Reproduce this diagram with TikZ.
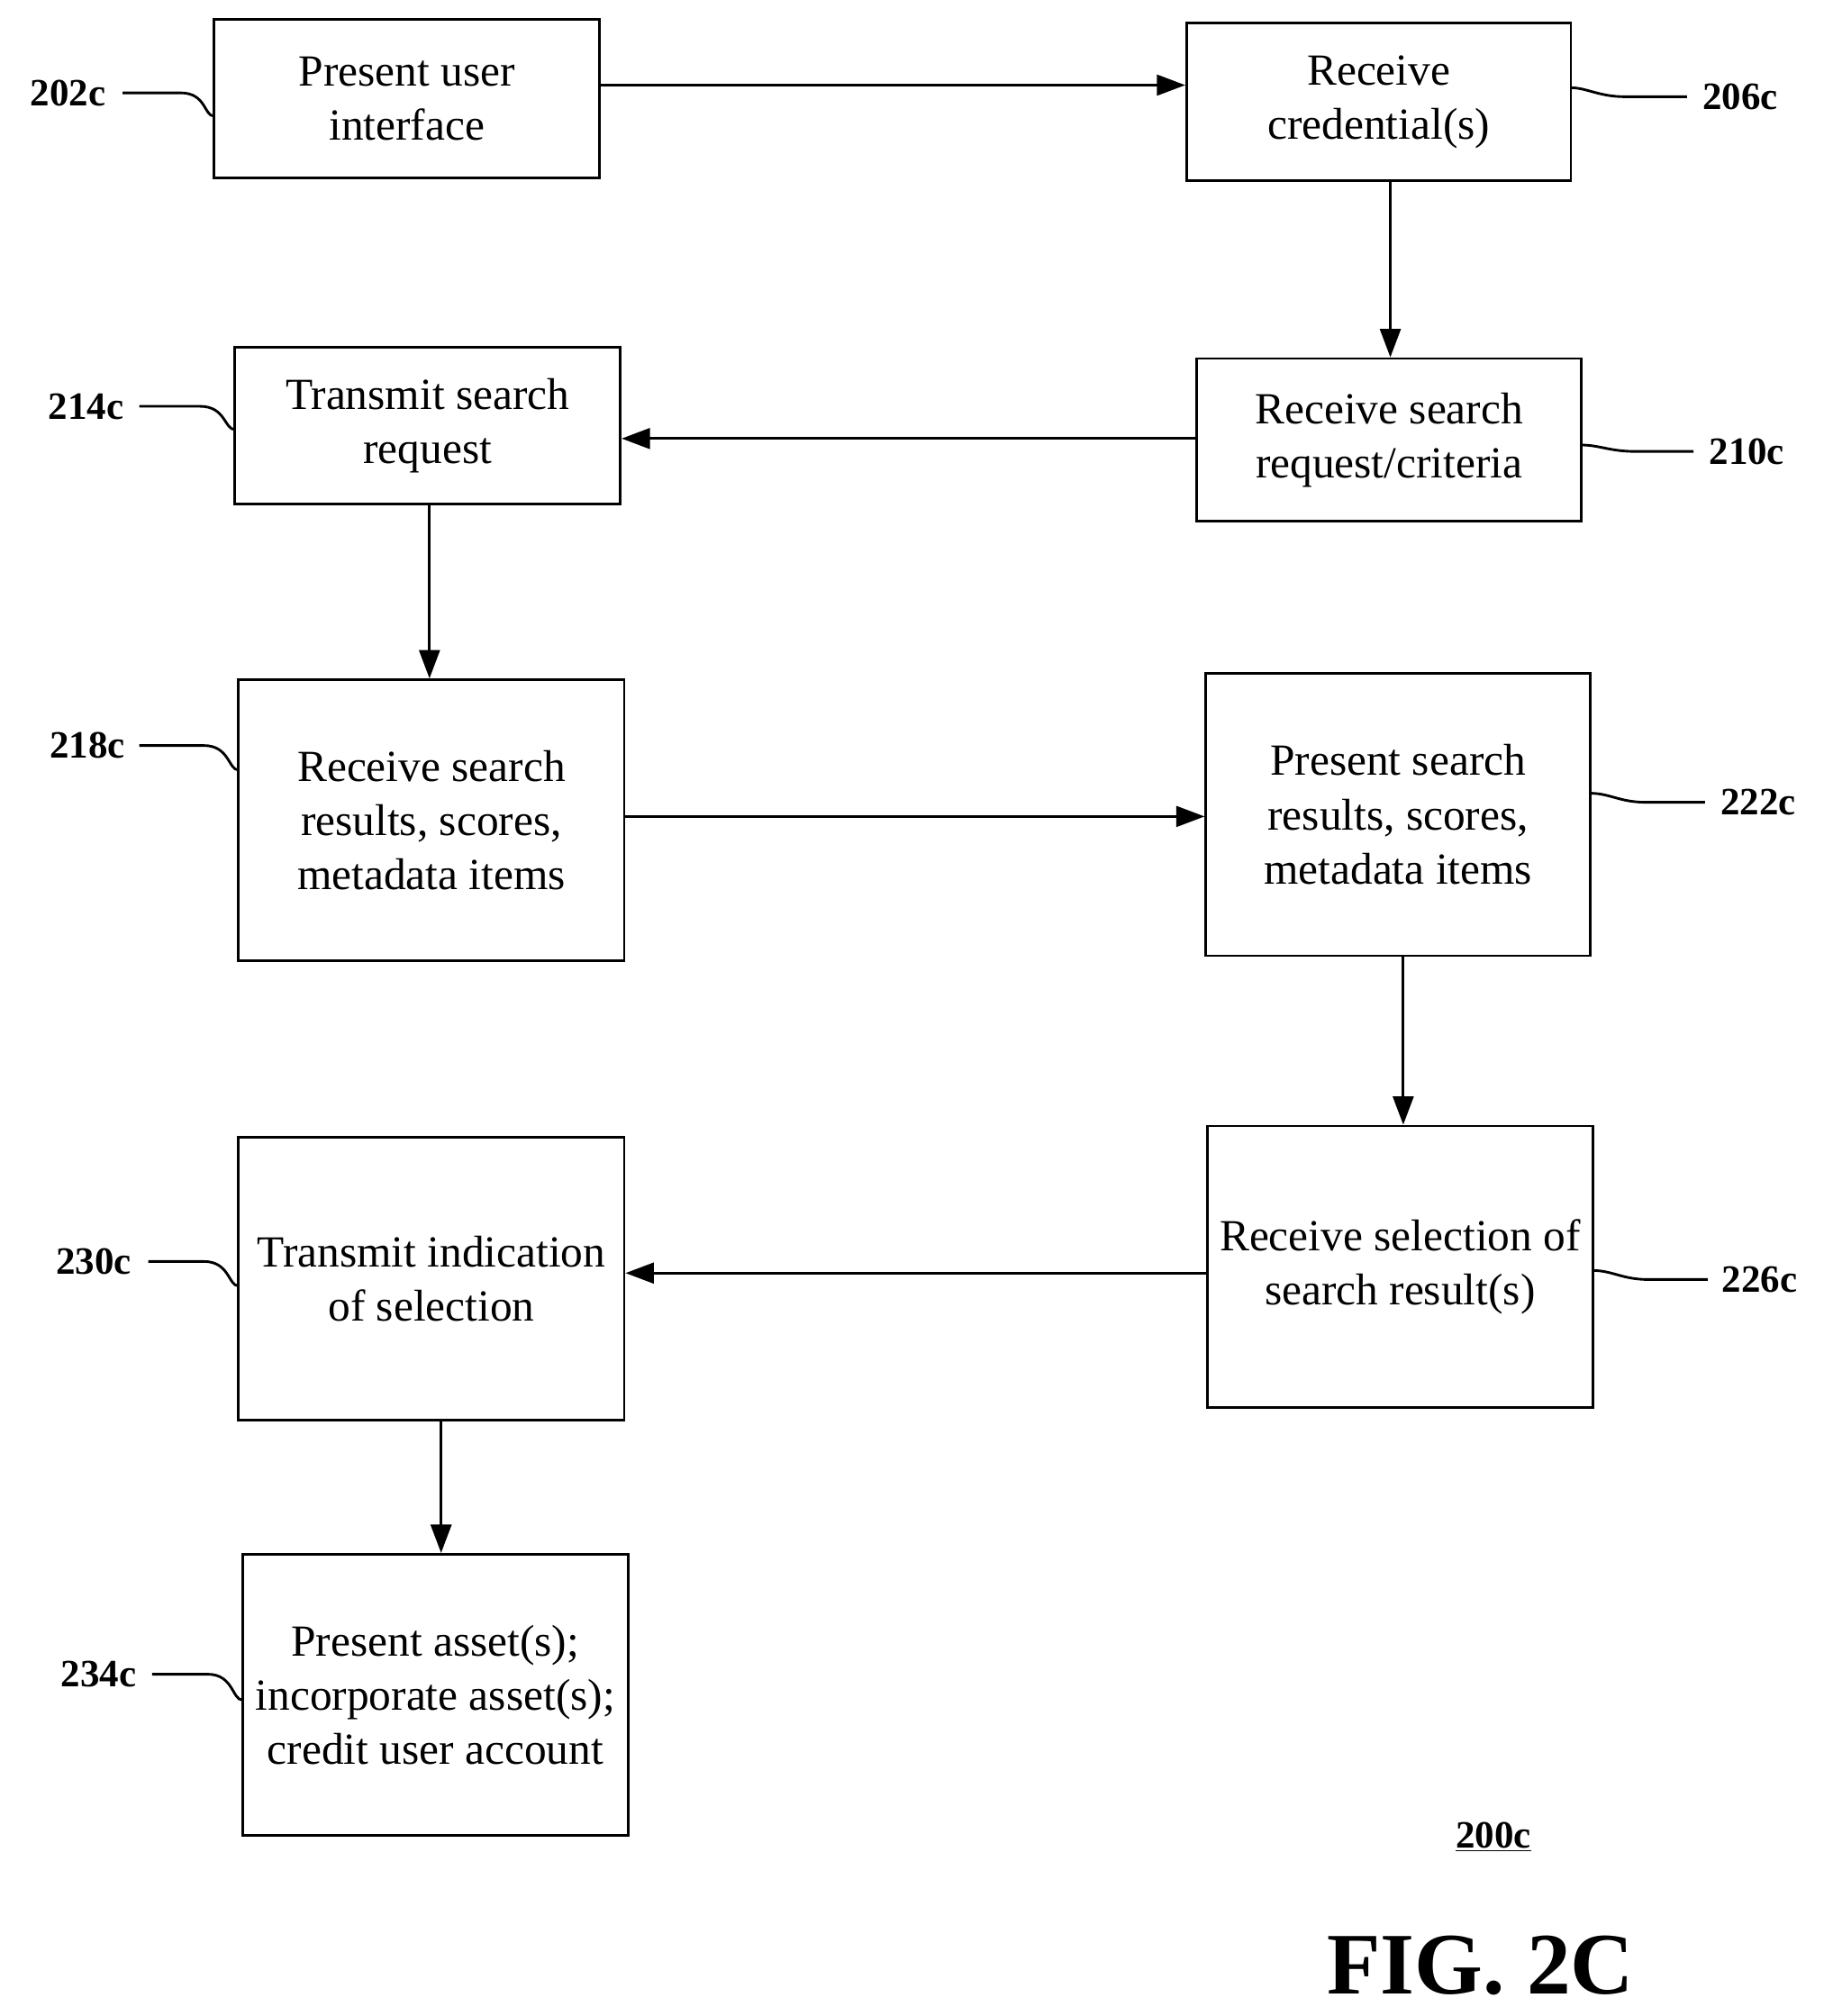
\documentclass[tikz,border=0pt]{standalone}
\usepackage{fontspec}
\setmainfont{Liberation Serif}
\usetikzlibrary{arrows.meta}
\begin{document}
\begin{tikzpicture}[x=1pt,y=-1pt,
 box/.style={draw,line width=2pt,align=center,inner sep=0pt,font=\fontsize{34.5}{42}\selectfont},
 lbl/.style={font=\fontsize{30}{34}\selectfont\bfseries,inner sep=0pt},
 arr/.style={line width=2pt,-{Triangle[length=22pt,width=16pt]}},
 lead/.style={line width=2pt}]
\useasboundingbox (0,0) rectangle (1414,1563);
\newcommand{\bx}[6]{\node[box,minimum width=#4-#2,minimum height=#5-#3] (#1) at ({(#2+#4)/2},{(#3+#5)/2}) {#6};}
\bx{a}{166}{15}{465}{138}{Present user\\interface}
\bx{b}{920}{18}{1218}{140}{Receive\\credential(s)}
\bx{c}{928}{278}{1226}{404}{Receive search\\request/criteria}
\bx{d}{182}{269}{481}{391}{Transmit search\\request}
\bx{e}{185}{527}{484}{745}{Receive search\\results, scores,\\metadata items}
\bx{f}{935}{522}{1233}{741}{Present search\\results, scores,\\metadata items}
\bx{g}{936}{873}{1235}{1091}{Receive selection of\\search result(s)}
\bx{h}{185}{882}{484}{1101}{Transmit indication\\of selection}
\bx{i}{188}{1205}{487}{1423}{Present asset(s);\\incorporate asset(s);\\credit user account}
% arrows
\draw[arr] (a.east |- 0,66) -- (b.west |- 0,66);
\draw[arr] (b.south -| 1078,0) -- (c.north -| 1078,0);
\draw[arr] (c.west |- 0,340) -- (d.east |- 0,340);
\draw[arr] (d.south -| 333,0) -- (e.north -| 333,0);
\draw[arr] (e.east |- 0,633) -- (f.west |- 0,633);
\draw[arr] (f.south -| 1088,0) -- (g.north -| 1088,0);
\draw[arr] (g.west |- 0,987) -- (h.east |- 0,987);
\draw[arr] (h.south -| 342,0) -- (i.north -| 342,0);
% labels
\node[lbl,anchor=east] (la) at (82,72) {202c};
\coordinate (ea) at (166,90);
\draw[lead] (95,72) -- (140,72) .. controls (160,72) and (158,90) .. (ea);
\node[lbl,anchor=west] (lb) at (1320,75) {206c};
\coordinate (eb) at (1218,68);
\draw[lead] (eb) .. controls (1230,68) and (1240,75) .. (1260,75) -- (1308,75);
\node[lbl,anchor=west] (lc) at (1325,350) {210c};
\coordinate (ec) at (1226,345);
\draw[lead] (ec) .. controls (1240,345) and (1248,350) .. (1268,350) -- (1313,350);
\node[lbl,anchor=east] (ld) at (96,315) {214c};
\coordinate (ed) at (182,333);
\draw[lead] (108,315) -- (155,315) .. controls (175,315) and (174,333) .. (ed);
\node[lbl,anchor=east] (le) at (97,578) {218c};
\coordinate (ee) at (185,597);
\draw[lead] (108,578) -- (158,578) .. controls (178,578) and (177,597) .. (ee);
\node[lbl,anchor=west] (lf) at (1334,622) {222c};
\coordinate (ef) at (1233,615);
\draw[lead] (ef) .. controls (1248,615) and (1256,622) .. (1276,622) -- (1322,622);
\node[lbl,anchor=west] (lg) at (1335,992) {226c};
\coordinate (eg) at (1235,985);
\draw[lead] (eg) .. controls (1250,985) and (1258,992) .. (1278,992) -- (1324,992);
\node[lbl,anchor=east] (lh) at (102,978) {230c};
\coordinate (eh) at (185,997);
\draw[lead] (115,978) -- (158,978) .. controls (178,978) and (177,997) .. (eh);
\node[lbl,anchor=east] (li) at (106,1298) {234c};
\coordinate (ei) at (188,1318);
\draw[lead] (118,1298) -- (161,1298) .. controls (181,1298) and (180,1318) .. (ei);
\node[lbl] (ref) at (1158,1424) {\underline{200c}};
\node[font=\fontsize{68}{70}\selectfont\bfseries,inner sep=0pt] (fig) at (1148,1524) {FIG. 2C};
\end{tikzpicture}
\end{document}
